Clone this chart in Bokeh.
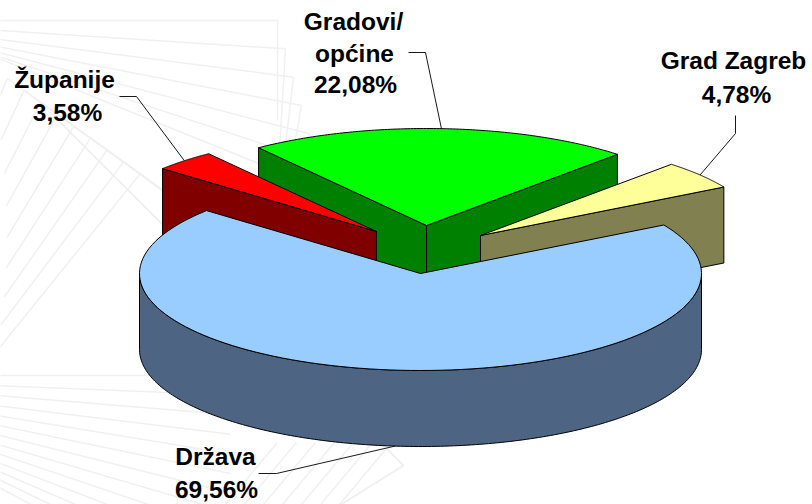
import numpy as np
from bokeh.plotting import figure
from bokeh.core.properties import value
from bokeh.embed import file_html
from bokeh.resources import INLINE

# ---- data ----
categories = ["Grad Zagreb", "Gradovi/općine", "Županije", "Država"]
shares = [4.78, 22.08, 3.58, 69.56]
share_labels = ["4,78%", "22,08%", "3,58%", "69,56%"]

# ---- layout / style ----
START = 30.0
A, B, DEPTH = 281.0, 97.0, 76.0
apex = {"Grad Zagreb": (480, 235), "Gradovi/općine": (426, 225),
        "Županije": (376, 231), "Država": (420, 273)}
top_col = {"Grad Zagreb": "#ffff99", "Gradovi/općine": "#00ff00",
           "Županije": "#ff0000", "Država": "#99ccff"}
wall_col = {"Grad Zagreb": "#808050", "Gradovi/općine": "#008000",
            "Županije": "#800000", "Država": "#4d6482"}
label_lines = {"Grad Zagreb": (["Grad Zagreb"], [(733, 60)], (736, 94)),
               "Gradovi/općine": (["Gradovi/", "općine"], [(353, 21), (354, 53)], (355, 84)),
               "Županije": (["Županije"], [(64, 79)], (67, 112)),
               "Država": (["Država"], [(215, 456)], (216, 489))}
leader_elbow = {"Grad Zagreb": [(735, 115), (735, 133)],
                "Gradovi/općine": [(408, 52), (425, 52)],
                "Županije": [(119, 96), (136, 96)],
                "Država": [(258, 473), (276, 473)]}
FONT = value("Liberation Sans")

p = figure(width=812, height=504, x_range=(0, 812), y_range=(504, 0),
           toolbar_location=None, output_backend="svg", min_border=0,
           background_fill_color="white", border_fill_color="white")
p.axis.visible = False
p.grid.visible = False
p.outline_line_color = None

WM = "#f0f0f0"


# ---- faint watermark behind the chart ----
def fan(c0, c1, t0, t1, arm0, arm1, ang0, ang1, n, focus=None):
    """Nested, turning corners of a faint decorative square spiral."""
    for i in range(n):
        f = i / (n - 1)
        cx, cy = c0[0] + (c1[0] - c0[0]) * f, c0[1] + (c1[1] - c0[1]) * f
        if focus is None:
            t = np.radians(t0 + (t1 - t0) * f)
            ex, ey = cx - 500 * np.cos(t), cy - 500 * np.sin(t)
        else:
            ex, ey = focus
        a = np.radians(ang0 + (ang1 - ang0) * f)
        arm = arm0 + (arm1 - arm0) * f
        p.line([ex, cx, cx + arm * np.cos(a)], [ey, cy, cy + arm * np.sin(a)],
               line_color=WM, line_width=1.5)


fan((277, 20), (325, 190), 0, 22, 100, 60, 90, 110, 7)
fan((7, 78), (140, 173), 0, 0, 30, 230, 113, 129, 9, focus=(165, 192))
fan((230, 375), (230, 610), 0, 28, 0, 0, 90, 90, 13)
fan((403, 465), (403, 465), 45, 45, 75, 75, 148, 148, 2)
for k in range(7):
    x = 225 + 19 * k
    p.line([x, x + 52], [504, 442], line_color=WM, line_width=1.5)


# ---- pie pieces, computed from the shares ----
def rim(name, deg):
    ax, ay = apex[name]
    r = np.radians(deg)
    return ax + A * np.cos(r), ay - B * np.sin(r)


edges = np.cumsum([0] + shares) * 3.6 + START
span = {c: (edges[i], edges[i + 1]) for i, c in enumerate(categories)}


def top(name):
    a0, a1 = span[name]
    ts = np.linspace(a0, a1, 120)
    xs, ys = rim(name, ts)
    ax, ay = apex[name]
    p.patch([ax, *xs], [ay, *ys], fill_color=top_col[name], line_color="black", line_width=1)


def radial_wall(name, deg):
    ax, ay = apex[name]
    x, y = rim(name, deg)
    p.patch([ax, x, x, ax], [ay, y, y + DEPTH, ay + DEPTH],
            fill_color=wall_col[name], line_color="black", line_width=1)


# only the faces turned to the viewer are drawn
radial_wall("Gradovi/općine", span["Gradovi/općine"][0])
radial_wall("Gradovi/općine", span["Gradovi/općine"][1])
top("Gradovi/općine")
radial_wall("Županije", span["Županije"][1])
top("Županije")
radial_wall("Grad Zagreb", span["Grad Zagreb"][0])
top("Grad Zagreb")

# big slice: front rim wall, then the top
ts = np.linspace(180, 360, 200)
xs, ys = rim("Država", ts)
p.patch([*xs, *xs[::-1]], [*ys, *(ys[::-1] + DEPTH)],
        fill_color=wall_col["Država"], line_color="black", line_width=1)
top("Država")

# ---- leaders and labels ----
for name, text in zip(categories, share_labels):
    mid = sum(span[name]) / 2
    ex, ey = rim(name, mid)
    if name == "Država":
        ey += DEPTH
    pts = leader_elbow[name] + [(ex, ey)]
    p.line([q[0] for q in pts], [q[1] for q in pts], line_color="#1a1a1a", line_width=1)
    lines, spots, last = label_lines[name]
    for t, (x, y) in list(zip(lines, spots)) + [(text, last)]:
        p.text([x], [y], text=[t], text_font=FONT, text_font_style="bold",
               text_font_size="24.5px", text_align="center", text_baseline="middle",
               text_color="black")

open("out.html", "w").write(file_html(p, INLINE))
